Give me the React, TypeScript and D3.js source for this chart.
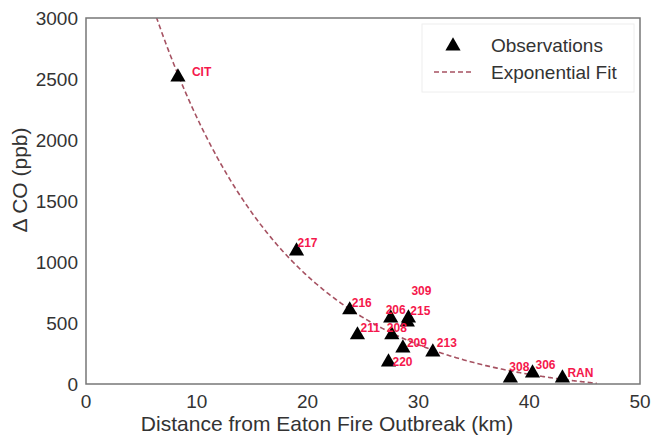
import React from "react";
import * as d3 from "d3";

const sites = ["CIT", "217", "216", "211", "206", "215", "309", "208", "209", "220", "213", "308", "306", "RAN"];
const distanceKm = [8.3, 19.0, 23.8, 24.5, 27.5, 29.0, 29.1, 27.6, 28.6, 27.3, 31.3, 38.3, 40.3, 43.0];
const deltaCO = [2516, 1090, 607, 402, 541, 508, 541, 402, 295, 180, 262, 49, 90, 49];

// label offsets in px (dx, dy) relative to marker
const labelDx = [14, 1, 2, 3, -5, 3, 3, -5, 4, 4, 4, -1, 3, 5];
const labelDy = [-5, -8, -7, -7, -8, -11, -27, -7, -5, 0, -9, -11, -8, -5];

// exponential fit: y = A * exp(-b x) + c
const fitA = 5306;
const fitB = 0.084;
const fitC = -105;
const fitRange = [5, 46.1];

const xTicks = [0, 10, 20, 30, 40, 50];
const yTicks = [0, 500, 1000, 1500, 2000, 2500, 3000];

export default function App() {
  const W = 653, H = 435;
  const left = 86, right = 640, top = 18, bottom = 384;
  const x = d3.scaleLinear().domain([0, 50]).range([left, right]);
  const y = d3.scaleLinear().domain([0, 3000]).range([bottom, top]);

  const fitXs = d3.range(fitRange[0], fitRange[1] + 0.001, 0.1);
  const fitPts: [number, number][] = fitXs.map((v) => [v, fitA * Math.exp(-fitB * v) + fitC]);
  const line = d3.line<[number, number]>().x((d) => x(d[0])).y((d) => y(d[1]));

  const tri = d3.symbol().type(d3.symbolTriangle).size(100)();
  const font = "'Liberation Sans', Arial, sans-serif";
  const fitColor = "#a65262";

  return (
    <svg width={W} height={H} style={{ position: "absolute", left: 0, top: 0, background: "#fff" }} fontFamily={font}>
      <defs>
        <clipPath id="plotclip">
          <rect x={left} y={top} width={right - left} height={bottom - top} />
        </clipPath>
      </defs>
      <rect x={0} y={0} width={W} height={H} fill="#fff" />
      <path d={line(fitPts) || ""} fill="none" stroke={fitColor} strokeWidth={1.6} strokeDasharray="5,3" clipPath="url(#plotclip)" />
      {sites.map((s, i) => (
        <path key={"m" + s} d={tri || ""} transform={`translate(${x(distanceKm[i])},${y(deltaCO[i])})`} fill="#000" />
      ))}
      {sites.map((s, i) => (
        <text key={"l" + s} x={x(distanceKm[i]) + labelDx[i]} y={y(deltaCO[i]) + labelDy[i]} dy="0.35em" fontSize={12} fontWeight="bold" fill="#f5184c">
          {s}
        </text>
      ))}
      <rect x={left} y={top} width={right - left} height={bottom - top} fill="none" stroke="#777" strokeWidth={1.5} />
      {xTicks.map((t) => (
        <text key={"x" + t} x={x(t)} y={bottom + 17} dy="0.35em" textAnchor="middle" fontSize={19} fill="#333">{t}</text>
      ))}
      {yTicks.map((t) => (
        <text key={"y" + t} x={left - 8} y={y(t)} dy="0.35em" textAnchor="end" fontSize={19} fill="#333">{t}</text>
      ))}
      <text x={327} y={424} dy="0.35em" textAnchor="middle" fontSize={21} fill="#333">Distance from Eaton Fire Outbreak (km)</text>
      <text transform={`translate(20,180) rotate(-90)`} textAnchor="middle" dy="0.35em" fontSize={21} fill="#333">Δ CO (ppb)</text>
      <g>
        <rect x={422} y={24} width={212} height={68} fill="#fff" stroke="#eee" strokeWidth={1} />
        <path d={tri || ""} transform="translate(453,46)" fill="#000" />
        <text x={491} y={45} dy="0.35em" fontSize={19} fill="#333">Observations</text>
        <line x1={434} x2={473} y1={72} y2={72} stroke={fitColor} strokeWidth={1.4} strokeDasharray="5,3" />
        <text x={491} y={72} dy="0.35em" fontSize={19} fill="#333">Exponential Fit</text>
      </g>
    </svg>
  );
}
